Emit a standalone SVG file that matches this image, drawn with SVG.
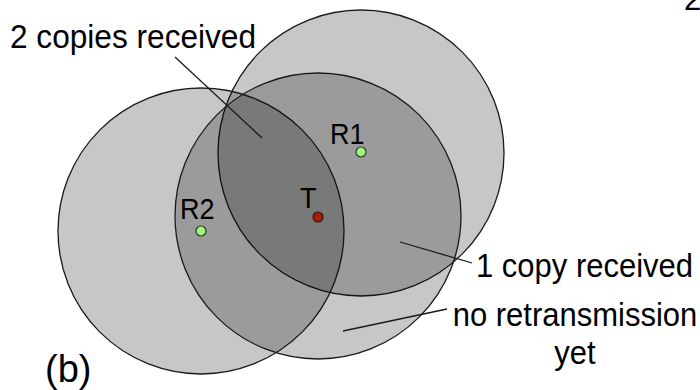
<svg xmlns="http://www.w3.org/2000/svg" width="700" height="390" viewBox="0 0 700 390">
<style>
.range{fill:#000;fill-opacity:0.22;stroke:#1a1a1a;stroke-width:1.3}
.lbl{font-family:"Liberation Sans",Arial,sans-serif;fill:#000}
.big{font-size:31px}
.node{font-size:27px}
.rx{fill:#9cf57e;stroke:#2a3a20;stroke-width:1.2}
.tx{fill:#a32010;stroke:#3a1008;stroke-width:1.2}
.lead{stroke:#1a1a1a;stroke-width:1.3;fill:none}
</style>
<rect width="700" height="390" fill="#fff"/>
<g id="range-R1"><circle class="range" cx="361" cy="153" r="143"/></g>
<g id="range-R2"><circle class="range" cx="201" cy="231" r="143"/></g>
<g id="range-T"><circle class="range" cx="318" cy="216" r="143"/></g>
<g id="connectors">
<line class="lead" x1="175" y1="57" x2="262" y2="138"/>
<line class="lead" x1="400" y1="242" x2="472" y2="263"/>
<line class="lead" x1="343" y1="331" x2="447" y2="309"/>
</g>
<g id="node-R1"><circle class="rx" cx="361" cy="152" r="5"/><text class="lbl node" transform="translate(330 144) scale(1 1.1)">R1</text></g>
<g id="node-R2"><circle class="rx" cx="201" cy="231" r="5"/><text class="lbl node" transform="translate(180 219) scale(1 1.1)">R2</text></g>
<g id="node-T"><circle class="tx" cx="318" cy="217" r="5"/><text class="lbl node" transform="translate(300 208) scale(1 1.1)">T</text></g>
<g id="label-two"><text class="lbl big" transform="translate(10 48) scale(1.02 1.1)">2 copies received</text></g>
<g id="label-one"><text class="lbl big" transform="translate(476 277) scale(1 1.1)">1 copy received</text></g>
<g id="label-none"><text class="lbl big" text-anchor="middle" transform="translate(575 326) scale(1 1.1)">no retransmission</text><text class="lbl big" text-anchor="middle" transform="translate(575 364) scale(1 1.1)">yet</text></g>
<g id="label-b"><text class="lbl" style="font-size:38px" transform="translate(45 382) scale(1 1.03)">(b)</text></g>
<g id="label-page"><text class="lbl big" x="684" y="10">2</text></g>
</svg>
